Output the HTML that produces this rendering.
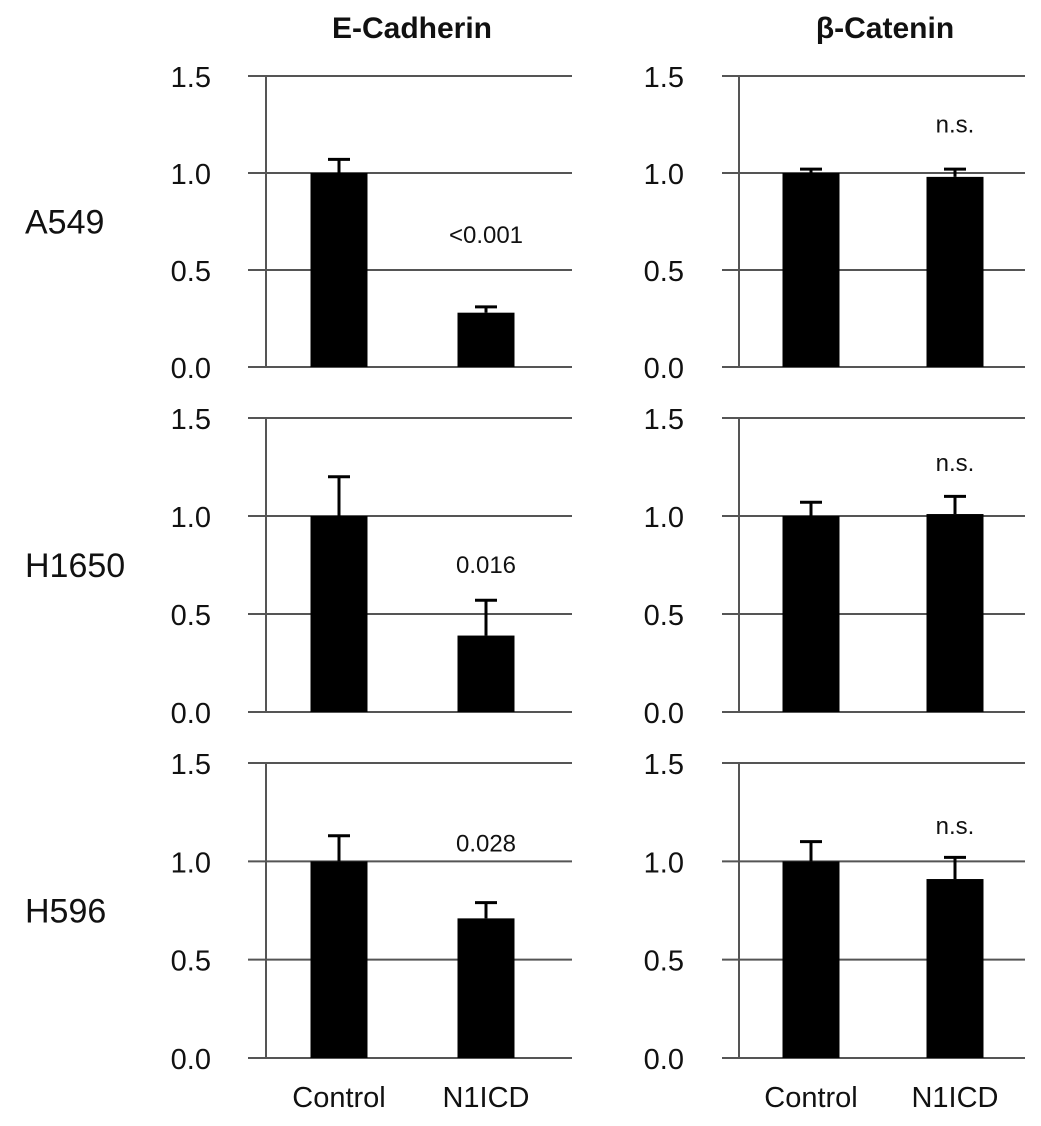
<!DOCTYPE html>
<html><head><meta charset="utf-8"><style>
body{margin:0;background:#fff;}
svg text{font-family:"Liberation Sans",sans-serif;fill:#111;}
</style></head><body>
<svg id="chart" width="1041" height="1121" viewBox="0 0 1041 1121" xmlns="http://www.w3.org/2000/svg">
<text x="412" y="38" font-size="30" font-weight="bold" text-anchor="middle">E-Cadherin</text>
<text x="885" y="38" font-size="30" font-weight="bold" text-anchor="middle">β-Catenin</text>
</svg>
<script>
const categories = ["Control", "N1ICD"];
const cellLines = ["A549", "H1650", "H596"];
const yTicks = [0, 0.5, 1.0, 1.5];
const tickLabels = ["0.0", "0.5", "1.0", "1.5"];
const ecadMeans = [[1.0, 0.28], [1.0, 0.39], [1.0, 0.71]];
const ecadErr = [[0.07, 0.03], [0.20, 0.18], [0.13, 0.08]];
const ecadP = ["<0.001", "0.016", "0.028"];
const bcatMeans = [[1.0, 0.98], [1.0, 1.01], [1.0, 0.91]];
const bcatErr = [[0.02, 0.04], [0.07, 0.09], [0.10, 0.11]];
const bcatP = ["n.s.", "n.s.", "n.s."];

const svg = document.getElementById('chart');
const NS = 'http://www.w3.org/2000/svg';
const rows = [{y0:367,y15:76},{y0:712,y15:418},{y0:1058,y15:763}];
const cols = [{axis:266,g0:248,g1:572,means:ecadMeans,err:ecadErr,p:ecadP,pos:[339,486],pY:[0.68,0.75,1.09],name:'ecad'},
              {axis:739,g0:722,g1:1025,means:bcatMeans,err:bcatErr,p:bcatP,pos:[811,955],pY:[1.25,1.27,1.18],name:'bcat'}];
function mk(tag, attrs){const e=document.createElementNS(NS,tag);for(const k in attrs)e.setAttribute(k,attrs[k]);svg.appendChild(e);return e;}
rows.forEach((r, ri) => {
  const yS = v => r.y0 + (r.y15 - r.y0) * v / 1.5;
  let lab = mk('text',{x:25,y:(r.y0+r.y15)/2+12,'font-size':34});
  lab.textContent = cellLines[ri];
  
  
  cols.forEach((c, ci) => {
    yTicks.forEach((t, ti) => {
      const gl = mk('line',{x1:c.g0,x2:c.g1,y1:yS(t),y2:yS(t),stroke:'#555','stroke-width':2});
      
      
      const tl = mk('text',{x:c.axis-55,y:yS(t)+11,'font-size':29,'text-anchor':'end'});
      tl.textContent = tickLabels[ti];
      
      
    });
    const ax = mk('line',{x1:c.axis,x2:c.axis,y1:yS(1.5),y2:yS(0),stroke:'#555','stroke-width':2});
    
    
    categories.forEach((cat, k) => {
      const v = c.means[ri][k], e = c.err[ri][k], x = c.pos[k];
      const el = mk('line',{x1:x,x2:x,y1:yS(v),y2:yS(v+e),stroke:'#000','stroke-width':3});
      
      
      const cap = mk('line',{x1:x-11,x2:x+11,y1:yS(v+e),y2:yS(v+e),stroke:'#000','stroke-width':3});
      
      
      const b = mk('rect',{x:x-28.5,y:yS(v),width:57,height:yS(0)-yS(v),fill:'#000'});
      
      
      if (ri === 2) {
        const cl = mk('text',{x:x,y:1107,'font-size':29,'text-anchor':'middle'});
        cl.textContent = cat;
        
        
      }
    });
    const pt = mk('text',{x:c.pos[1],y:yS(c.pY[ri])+8,'font-size':24,'text-anchor':'middle'});
    pt.textContent = c.p[ri];
    
    
  });
});
</script>
</body></html>
